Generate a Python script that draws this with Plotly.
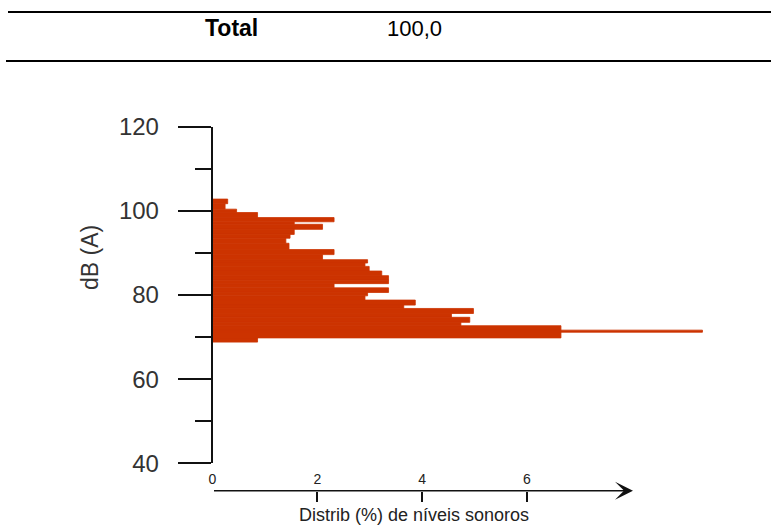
import plotly.graph_objects as go

# Distribution of sound levels: each class spans [db_low, db_high] dB(A)
db_low = [101.7, 100.4, 99.6, 98.4, 97.4, 96.8, 95.6, 94.4, 93.5, 92.3,
          90.8, 89.6, 88.4, 87.6, 86.8, 85.7, 84.6, 83.5, 82.7, 81.7,
          80.6, 79.8, 78.8, 77.6, 76.8, 75.6, 74.7, 73.5, 72.7, 69.8,
          68.8, 71.15]
db_high = [102.8, 101.7, 100.4, 99.6, 98.4, 97.4, 96.8, 95.6, 94.4, 93.5,
           92.3, 90.8, 89.6, 88.4, 87.6, 86.8, 85.7, 84.6, 83.5, 82.7,
           81.7, 80.6, 79.8, 78.8, 77.6, 76.8, 75.6, 74.7, 73.5, 72.7,
           69.8, 71.65]
pct = [0.29, 0.24, 0.46, 0.86, 2.32, 1.56, 2.10, 1.56, 1.48, 1.40,
       1.46, 2.32, 2.10, 2.96, 2.91, 2.99, 3.23, 3.36, 3.36, 2.32,
       3.36, 2.96, 2.91, 3.87, 3.65, 4.98, 4.56, 4.91, 4.74, 6.65,
       0.86, 9.35]

y_ticks = [40, 60, 80, 100, 120]
y_minor = [50, 70, 90, 110]
x_ticks = [0, 2, 4, 6]

table_label = "Total"
table_value = "100,0"

W, H = 771, 526
FONT = "Liberation Sans, Arial, sans-serif"
BAR = "#CC3300"


def fx(px):
    return px / W


def fy(py):
    return 1 - py / H


centers = [(a + b) / 2 for a, b in zip(db_low, db_high)]
heights = [b - a for a, b in zip(db_low, db_high)]

fig = go.Figure()
fig.add_trace(go.Bar(
    x=pct, y=centers, width=heights, base=0, orientation="h",
    marker=dict(color=BAR, line=dict(width=0.8, color=BAR)),
    hoverinfo="skip", showlegend=False,
))

x0_px, x1_px = 212.5, 720.0
px_per_pct = 52.4

fig.update_layout(
    width=W, height=H,
    margin=dict(l=0, r=0, t=0, b=0, pad=0),
    paper_bgcolor="white", plot_bgcolor="white",
    font=dict(family=FONT, color="#222"),
    showlegend=False,
    xaxis=dict(
        domain=[fx(x0_px), fx(x1_px)],
        range=[0, (x1_px - x0_px) / px_per_pct],
        anchor="free", position=fy(490.7), side="top",
        automargin=False,
        showline=False, showgrid=False, zeroline=False,
        ticks="inside", ticklen=10, tickwidth=1.5, tickcolor="#111",
        tickmode="array", tickvals=x_ticks,
        tickfont=dict(size=14, color="#222", family=FONT),
        ticklabelstandoff=4,
    ),
    yaxis=dict(
        domain=[fy(463.3), fy(126.7)],
        range=[40, 120],
        anchor="x",
        automargin=False,
        showline=True, linecolor="#111", linewidth=1.5,
        showgrid=False, zeroline=False,
        ticks="outside", ticklen=33, tickwidth=1.5, tickcolor="#111",
        tickmode="array", tickvals=y_ticks,
        tickfont=dict(size=24, color="#333", family=FONT),
        ticklabelstandoff=14,
        minor=dict(tickvals=y_minor, ticks="outside", ticklen=16,
                   tickwidth=1.5, tickcolor="#111", showgrid=False),
    ),
)

# table rules above the chart
for py, x_start in [(12, 8), (61, 6)]:
    fig.add_shape(type="line", xref="paper", yref="paper",
                  x0=fx(x_start), x1=1, y0=fy(py), y1=fy(py),
                  line=dict(color="black", width=2))


def label(text, px, py, size, color, angle=0):
    fig.add_annotation(text=text, xref="paper", yref="paper",
                       x=fx(px), y=fy(py), xanchor="center", yanchor="middle",
                       showarrow=False, textangle=angle,
                       font=dict(size=size, color=color, family=FONT))


label("<b>" + table_label + "</b>", 231, 28, 23, "black")
label(table_value, 414, 29, 22, "black")

# horizontal axis line with arrow head
tip_px = 633
fig.add_annotation(x=(tip_px - x0_px) / px_per_pct, y=fy(490.7),
                   xref="x", yref="paper", ax=-(tip_px - x0_px), ay=0,
                   axref="pixel", ayref="pixel",
                   text="", showarrow=True, arrowhead=3, arrowsize=2,
                   arrowwidth=1.5, arrowcolor="#111")

# axis titles
label("Distrib (%) de níveis sonoros", 414, 515, 18, "#222")
label("dB (A)", 90, 258, 23, "#333", angle=-90)

fig.write_html("out.html")
